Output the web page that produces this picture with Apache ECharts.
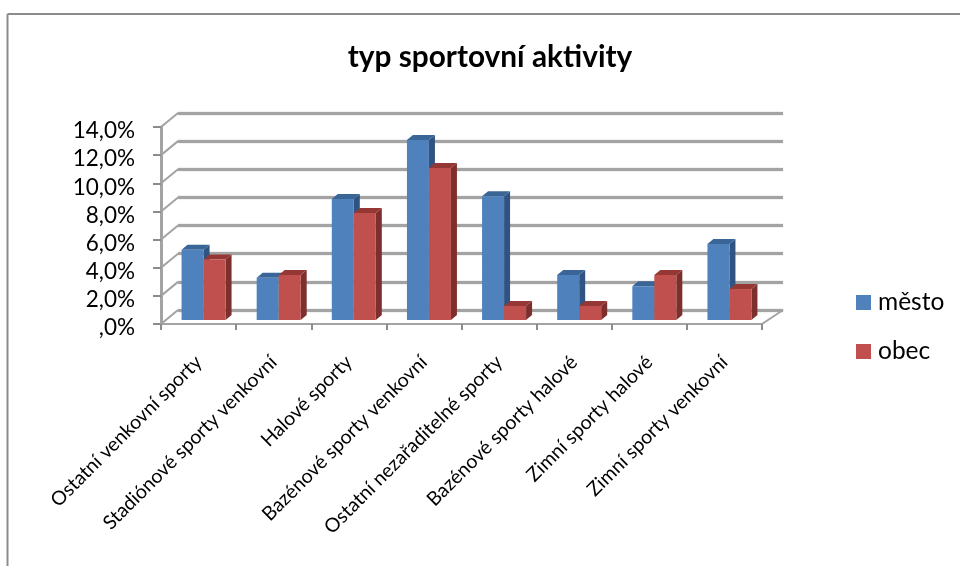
<!DOCTYPE html>
<html>
<head>
<meta charset="utf-8">
<style>
  html, body { margin: 0; padding: 0; background: #fff; }
  #chart { width: 960px; height: 566px; }
</style>
<script src="https://cdn.jsdelivr.net/npm/echarts@6/dist/echarts.min.js"></script>
</head>
<body>
<div id="chart"></div>
<script>
const categories = [
  'Ostatní venkovní sporty',
  'Stadiónové sporty venkovní',
  'Halové sporty',
  'Bazénové sporty venkovní',
  'Ostatní nezařaditelné sporty',
  'Bazénové sporty halové',
  'Zimní sporty halové',
  'Zimní sporty venkovní'
];
const mesto = [5.0, 3.0, 8.6, 12.8, 8.8, 3.2, 2.4, 5.4];
const obec = [4.3, 3.2, 7.6, 10.8, 1.0, 1.0, 3.2, 2.2];
const ticks = [0, 2, 4, 6, 8, 10, 12, 14];
const FONT = 'Lato, "Open Sans", sans-serif';
const GRID_COLOR = '#a3a3a3';
const blue = { front: '#4f81bd', side: '#2f5482', top: '#3a6597' };
const red = { front: '#c0504d', side: '#7d2f2d', top: '#953735' };

// the back wall is a second grid shifted by depth from the front plane
const depth = { x: 17, y: -14 };
// bars stand in the middle of the floor depth
const barShift = { x: 5, y: -4 };
const barSide = { x: 6, y: -5 };
const barWidth = 22;

function cuboid(colors, seriesIdx) {
  return function (params, api) {
    const base = api.coord([api.value(0), 0]);
    const top = api.coord([api.value(0), api.value(1)]);
    const x0 = base[0] + barShift.x + (seriesIdx === 0 ? -barWidth : 0);
    const x1 = x0 + barWidth;
    const yb = base[1] + barShift.y;
    const yt = top[1] + barShift.y;
    const dx = barSide.x, dy = barSide.y;
    return {
      type: 'group',
      children: [
        { type: 'polygon', shape: { points: [[x1, yb], [x1 + dx, yb + dy], [x1 + dx, yt + dy], [x1, yt]] }, style: { fill: colors.side } },
        { type: 'polygon', shape: { points: [[x0, yt], [x0 + dx, yt + dy], [x1 + dx, yt + dy], [x1, yt]] }, style: { fill: colors.top } },
        { type: 'rect', shape: { x: x0, y: yt, width: barWidth, height: yb - yt }, style: { fill: colors.front } }
      ]
    };
  };
}

// diagonal from each front tick back to the wall
function diagonal(params, api) {
  const p = api.coord([0, api.value(0)]);
  const x = p[0] - api.size([1, 0])[0] / 2;
  return {
    type: 'line',
    shape: { x1: x, y1: p[1], x2: x + depth.x, y2: p[1] + depth.y },
    style: { stroke: GRID_COLOR, lineWidth: 2 }
  };
}
// right edge of the floor
function floorEdge(params, api) {
  const p = api.coord([categories.length - 1, 0]);
  const x = p[0] + api.size([1, 0])[0] / 2;
  return {
    type: 'line',
    shape: { x1: x, y1: p[1], x2: x + depth.x + 4, y2: p[1] + depth.y },
    style: { stroke: GRID_COLOR, lineWidth: 2 }
  };
}

const chart = echarts.init(document.getElementById('chart'));
chart.setOption({
  animation: false,
  backgroundColor: '#fff',
  textStyle: { fontFamily: FONT },
  title: {
    text: 'typ sportovní aktivity',
    left: 485, top: 37, textAlign: 'center',
    textStyle: { fontFamily: FONT, fontSize: 29.8, fontWeight: 'bold', color: '#000' }
  },
  legend: {
    orient: 'vertical',
    left: 851, top: 285,
    itemWidth: 15, itemHeight: 15, itemGap: 24,
    textStyle: { fontFamily: FONT, fontSize: 24.5, color: '#000', padding: [0, 0, 0, 2] },
    data: [
      { name: 'město', icon: 'rect', itemStyle: { color: blue.front } },
      { name: 'obec', icon: 'rect', itemStyle: { color: red.front } }
    ]
  },
  grid: [
    { left: 161, top: 127, width: 601, height: 197 },
    { left: 178, top: 113, width: 605, height: 197 }
  ],
  xAxis: [
    {
      type: 'category', gridIndex: 0, data: categories,
      axisLine: { lineStyle: { color: GRID_COLOR, width: 2 } },
      axisTick: { show: true, length: 6, lineStyle: { color: '#8c8c8c', width: 2 } },
      axisLabel: { interval: 0, rotate: 45, fontSize: 19.5, color: '#000', margin: 35, fontFamily: FONT },
      z: 3
    },
    { type: 'category', gridIndex: 1, data: categories, axisLine: { show: false }, axisTick: { show: false }, axisLabel: { show: false } }
  ],
  yAxis: [
    {
      type: 'value', gridIndex: 0, min: 0, max: 14, interval: 2,
      axisLine: { show: true, lineStyle: { color: GRID_COLOR, width: 3 } },
      axisTick: { show: true, length: 8, lineStyle: { color: '#8c8c8c', width: 2 } },
      axisLabel: {
        margin: 26,
        showMinLabel: true, showMaxLabel: true,
        formatter: v => '{t|' + (v === 0 ? ',0%' : v + ',0%') + '}',
        rich: { t: { fontSize: 22.5, color: '#000', fontFamily: FONT, padding: [8, 0, 0, 0] } }
      },
      splitLine: { show: false }
    },
    {
      type: 'value', gridIndex: 1, min: 0, max: 14, interval: 2,
      axisLine: { show: false }, axisTick: { show: false }, axisLabel: { show: false },
      splitLine: { show: true, lineStyle: { color: GRID_COLOR, width: 3, shadowColor: 'rgba(0,0,0,0.2)', shadowBlur: 2 } }
    }
  ],
  series: [
    { type: 'custom', name: 'diag', xAxisIndex: 0, yAxisIndex: 0, data: ticks.map(v => [v]), renderItem: diagonal, encode: { y: 0 }, silent: true, z: 1 },
    { type: 'custom', name: 'edge', xAxisIndex: 0, yAxisIndex: 0, data: [[0]], renderItem: floorEdge, encode: { y: 0 }, silent: true, z: 1 },
    { type: 'custom', name: 'město', xAxisIndex: 0, yAxisIndex: 0, data: mesto.map((v, i) => [i, v]), renderItem: cuboid(blue, 0), encode: { x: 0, y: 1 }, z: 4 },
    { type: 'custom', name: 'obec', xAxisIndex: 0, yAxisIndex: 0, data: obec.map((v, i) => [i, v]), renderItem: cuboid(red, 1), encode: { x: 0, y: 1 }, z: 5 }
  ],
  graphic: [
    { type: 'line', shape: { x1: 7.5, y1: 14, x2: 960, y2: 14 }, style: { stroke: '#8c8c8c', lineWidth: 2 }, silent: true },
    { type: 'line', shape: { x1: 7.5, y1: 14, x2: 7.5, y2: 566 }, style: { stroke: '#8c8c8c', lineWidth: 2 }, silent: true }
  ]
});
</script>
</body>
</html>
